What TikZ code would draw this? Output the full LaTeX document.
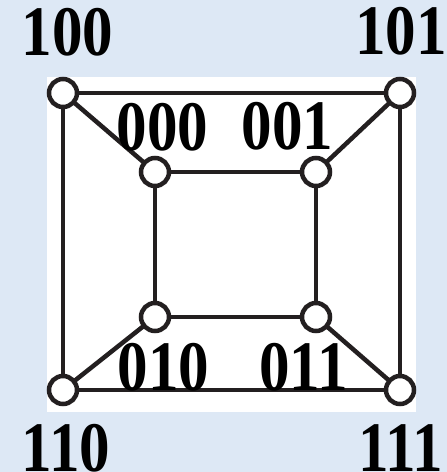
\documentclass[tikz,border=0pt]{standalone}
\usepackage{fontspec}
\setmainfont{Liberation Serif}
\newfontfamily\labfont{Liberation Serif}[FakeStretch=0.86]
\definecolor{bgblue}{HTML}{DDE8F5}
\definecolor{ink}{HTML}{231F20}
\begin{document}
\begin{tikzpicture}[x=1pt,y=-1pt,
  vert/.style={circle,draw=ink,fill=white,line width=4.5pt,minimum size=28pt,inner sep=0pt,outer sep=0pt},
  edge/.style={draw=ink,line width=4.5pt},
  lab/.style={anchor=base,inner sep=0pt,font=\labfont\fontsize{71}{71}\bfseries\selectfont,text=black}]
\fill[bgblue] (0,0) rectangle (447,472);
\useasboundingbox (0,0) rectangle (447,472);
\fill[white] (47,77) rectangle (416,412);
\node[vert] (n100) at (63,93) {};
\node[vert] (n101) at (400,93) {};
\node[vert] (n110) at (63,390) {};
\node[vert] (n111) at (400,390) {};
\node[vert] (n000) at (155,172) {};
\node[vert] (n001) at (316,172) {};
\node[vert] (n010) at (155,317) {};
\node[vert] (n011) at (316,317) {};
\draw[edge] (n100) -- (n101);
\draw[edge] (n101) -- (n111);
\draw[edge] (n111) -- (n110);
\draw[edge] (n110) -- (n100);
\draw[edge] (n000) -- (n001);
\draw[edge] (n001) -- (n011);
\draw[edge] (n011) -- (n010);
\draw[edge] (n010) -- (n000);
\draw[edge] (n100) -- (n000);
\draw[edge] (n101) -- (n001);
\draw[edge] (n110) -- (n010);
\draw[edge] (n111) -- (n011);
\node[lab] (t100) at (67.5,55) {100};
\node[lab] (t101) at (401,54) {101};
\node[lab] (t110) at (66,471) {110};
\node[lab] (t111) at (401,471) {111};
\node[lab] (t000) at (162.5,150) {000};
\node[lab] (t001) at (287.5,149) {001};
\node[lab] (t010) at (163.5,390) {010};
\node[lab] (t011) at (303.5,390) {011};
\end{tikzpicture}
\end{document}
